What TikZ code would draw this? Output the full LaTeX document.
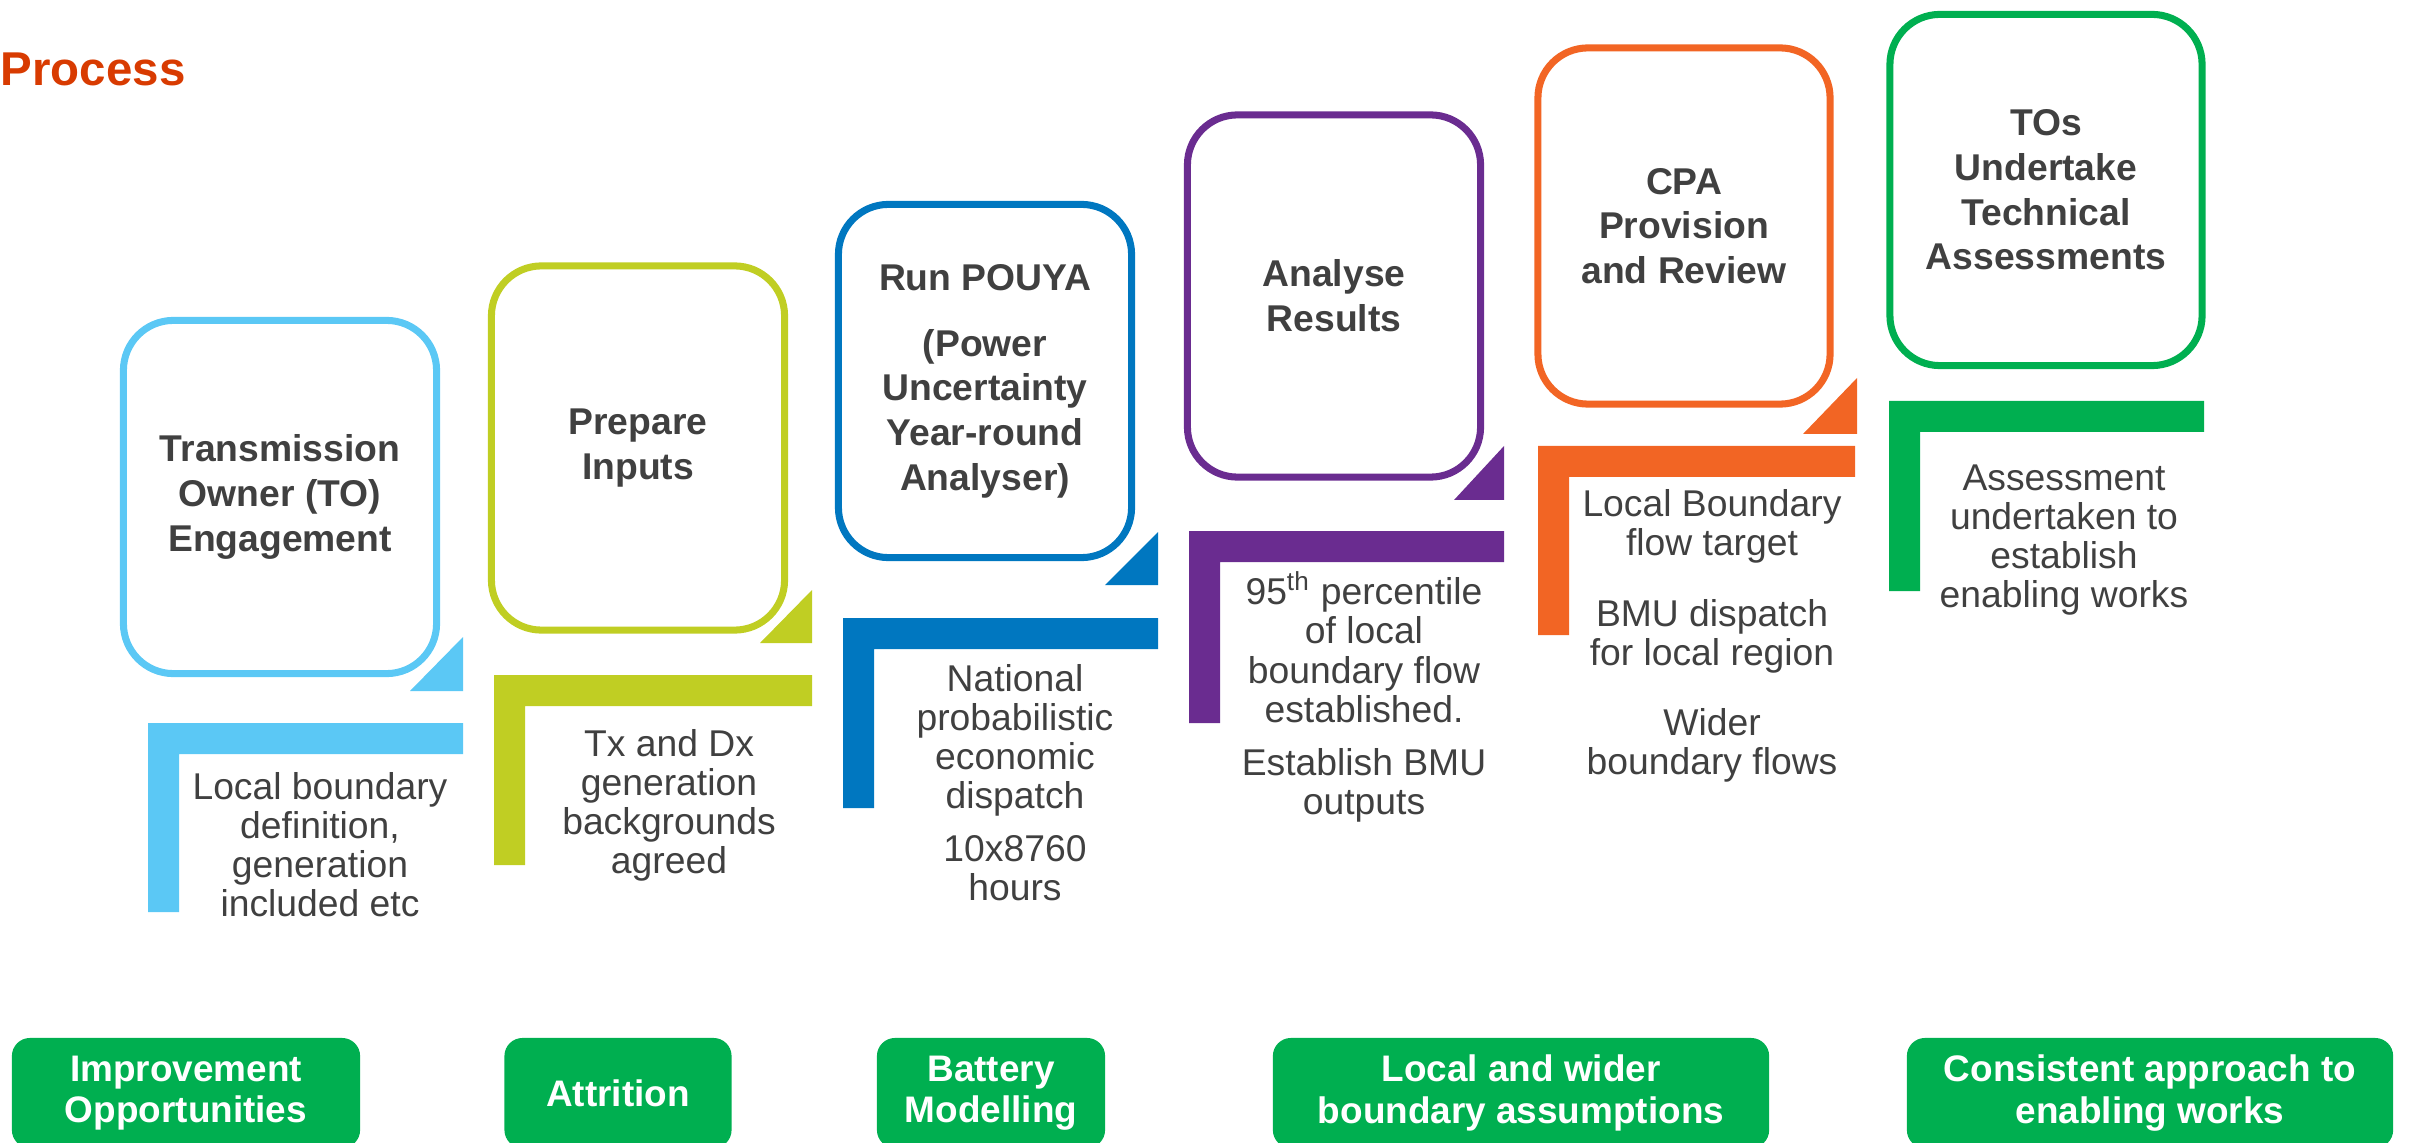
\documentclass[tikz,border=0pt]{standalone}
\usepackage{fontspec}
\setmainfont{Liberation Sans}

\definecolor{skyblue}{HTML}{5BC8F5}
\definecolor{lime}{HTML}{C0CE23}
\definecolor{deepblue}{HTML}{0077C0}
\definecolor{plum}{HTML}{6A2C90}
\definecolor{tangerine}{HTML}{F26524}
\definecolor{leaf}{HTML}{00AF50}
\definecolor{textgray}{HTML}{404040}
\definecolor{processred}{HTML}{D83B01}

\tikzset{
  stagebox/.style={draw=#1, line width=2pt, rounded corners=0.5cm, fill=white,
    text=textgray, align=center, inner sep=0pt,
    font=\bfseries\fontsize{10.6}{12.7}\selectfont},
  stagenote/.style={text=textgray, align=center, inner sep=0pt,
    font=\fontsize{10.6}{11.1}\selectfont},
  benefit/.style={fill=leaf, rounded corners=0.18cm, text=white, align=center,
    inner sep=0pt, minimum height=1.1cm,
    font=\bfseries\fontsize{10.5}{11.8}\selectfont}
}

\begin{document}
\begin{tikzpicture}[x=0.01cm, y=-0.01cm]
  \useasboundingbox (0,0) rectangle (2412,1143);

  \node[anchor=west, inner sep=0pt, text=processred,
    font=\bfseries\fontsize{13.5}{16}\selectfont] (title) at (0,69) {Process};

  % stage boxes
  \node[stagebox=skyblue, minimum width=3.13cm, minimum height=3.53cm] (engage) at (280,497)
    {Transmission\\Owner (TO)\\Engagement};
  \node[stagebox=lime, minimum width=2.93cm, minimum height=3.64cm] (inputs) at (638,448)
    {Prepare\\Inputs};
  \node[stagebox=deepblue, minimum width=2.93cm, minimum height=3.53cm] (pouya) at (985,381)
    {Run POUYA\\[6pt](Power\\Uncertainty\\Year-round\\Analyser)};
  \node[stagebox=plum, minimum width=2.93cm, minimum height=3.62cm] (analyse) at (1334,296)
    {Analyse\\Results};
  \node[stagebox=tangerine, minimum width=2.92cm, minimum height=3.56cm] (cpa) at (1684,226)
    {CPA\\Provision\\and Review};
  \node[stagebox=leaf, minimum width=3.12cm, minimum height=3.51cm] (assess) at (2046,190)
    {TOs\\Undertake\\Technical\\Assessments};

  % corner pointers
  \fill[skyblue] (463,637) -- (463,691) -- (410,691) -- cycle;
  \fill[lime] (812,590) -- (812,643) -- (760,643) -- cycle;
  \fill[deepblue] (1158,532) -- (1158,585) -- (1105,585) -- cycle;
  \fill[plum] (1504,446) -- (1504,500) -- (1454,500) -- cycle;
  \fill[tangerine] (1857,378) -- (1857,434) -- (1803,434) -- cycle;

  % L brackets
  \fill[skyblue] (148,723) -- (463,723) -- (463,754) -- (179,754) -- (179,912) -- (148,912) -- cycle;
  \fill[lime] (494,675) -- (812,675) -- (812,706) -- (525,706) -- (525,865) -- (494,865) -- cycle;
  \fill[deepblue] (843,618) -- (1158,618) -- (1158,649) -- (874,649) -- (874,808) -- (843,808) -- cycle;
  \fill[plum] (1189,531) -- (1504,531) -- (1504,562) -- (1220,562) -- (1220,723) -- (1189,723) -- cycle;
  \fill[tangerine] (1538,446) -- (1855,446) -- (1855,477) -- (1569,477) -- (1569,635) -- (1538,635) -- cycle;
  \fill[leaf] (1889,401) -- (2204,401) -- (2204,432) -- (1920,432) -- (1920,591) -- (1889,591) -- cycle;

  % notes
  \node[stagenote] (engagenote) at (320,845)
    {Local boundary\\definition,\\generation\\included etc};
  \node[stagenote] (inputsnote) at (669,805)
    {Tx and Dx\\generation\\backgrounds\\agreed};
  \node[stagenote] (pouyanote) at (1015,783)
    {National\\probabilistic\\economic\\dispatch\\[4pt]10x8760\\hours};
  \node[stagenote] (analysenote) at (1364,697)
    {95\textsuperscript{th} percentile\\of local\\boundary flow\\established.\\[4pt]Establish BMU\\outputs};
  \node[stagenote] (cpanote) at (1712,636)
    {Local Boundary\\flow target\\[9pt]BMU dispatch\\for local region\\[9pt]Wider\\boundary flows};
  \node[stagenote] (assessnote) at (2064,540)
    {Assessment\\undertaken to\\establish\\enabling works};

  % benefits
  \node[benefit, minimum width=3.48cm] (improve) at (186,1093) {Improvement\\Opportunities};
  \node[benefit, minimum width=2.27cm] (attrition) at (618,1093) {Attrition};
  \node[benefit, minimum width=2.28cm] (battery) at (991,1093) {Battery\\Modelling};
  \node[benefit, minimum width=4.96cm] (boundary) at (1521,1093) {Local and wider\\boundary assumptions};
  \node[benefit, minimum width=4.86cm] (enabling) at (2150,1093) {Consistent approach to\\enabling works};
\end{tikzpicture}
\end{document}
